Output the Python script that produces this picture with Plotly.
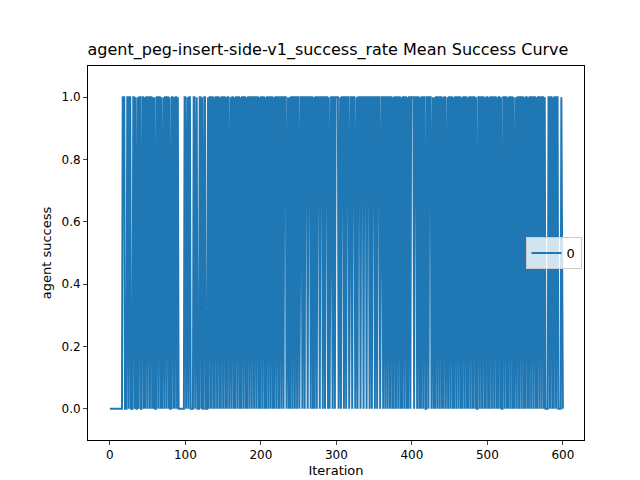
import plotly.graph_objects as go

# per-iteration success (0/1)
success_rows = [
    "0000000000" "0000000111" "0001101100" "0110100101" "1001101011",
    "0110110101" "0011011010" "1101101101" "0011010110" "1000000001",
    "1011011000" "0110110001" "1010011000" "1011011010" "1101101011",
    "0110101101" "1011010110" "1101011011" "0101101101" "1011011010",
    "1101101011" "0110110101" "1011011011" "0111011010" "1101101101",
    "1011101101" "1101110110" "1011011101" "1101101110" "1011101101",
    "1110110111" "0110111011" "1011101101" "1101110111" "0111011011",
    "1011011101" "1101101101" "1011010110" "1101101011" "0110101101",
    "1110111011" "0101101100" "1101110110" "1011011011" "0101101101",
    "1011010110" "1101101011" "0110101101" "1011010011" "0110110101",
    "1010110110" "1101011010" "0110110101" "1011010110" "1101101101",
    "0110101101" "1011010110" "1101101000" "0110110101" "1011000010",
    "0",
]
success = [int(c) for row in success_rows for c in row]
iterations = list(range(len(success)))

fig = go.Figure()
fig.add_trace(go.Scatter(x=iterations, y=success, mode="lines", name="0",
                         showlegend=True,
                         line=dict(color="#1f77b4", width=2)))

axis = dict(showline=True, linecolor="black", linewidth=1, mirror=True,
            ticks="outside", ticklen=4, showgrid=False, zeroline=False,
            automargin=False, tickfont=dict(size=12, color="black"))
fig.update_layout(
    width=640, height=480, paper_bgcolor="white", plot_bgcolor="white",
    font=dict(family="DejaVu Sans", color="black"),
    margin=dict(l=80, r=64, t=58, b=48),
    showlegend=True,
    title=dict(text="agent_peg-insert-side-v1_success_rate Mean Success Curve",
               x=0.5, xanchor="center", y=0.925, font=dict(size=16)),
    xaxis=dict(axis, range=[-29, 628], tickvals=[0, 100, 200, 300, 400, 500, 600],
               title=dict(text="Iteration", font=dict(size=13), standoff=4)),
    yaxis=dict(axis, range=[-0.1, 1.1], tickvals=[0, 0.2, 0.4, 0.6, 0.8, 1.0],
               tickformat=".1f",
               title=dict(text="agent success", font=dict(size=13), standoff=6)),
    legend=dict(x=0.995, y=0.5, xanchor="right", yanchor="middle",
                bgcolor="rgba(255,255,255,0.8)", bordercolor="#cccccc",
                borderwidth=1, font=dict(size=13)),
)

fig.write_html("out.html")
